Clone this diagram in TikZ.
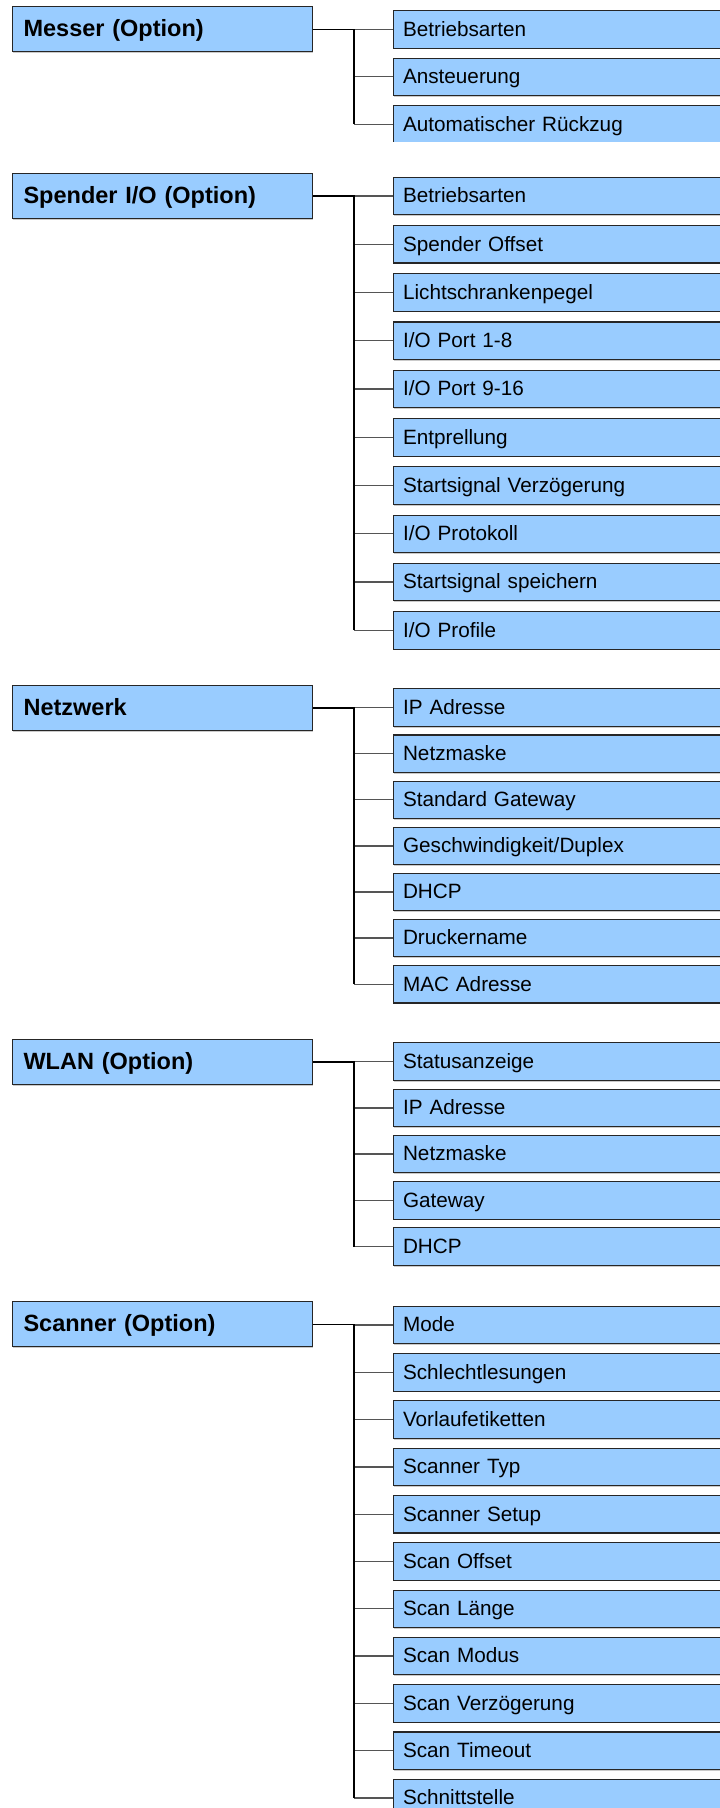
\documentclass[tikz,border=0pt]{standalone}
\usepackage{fontspec}
\setmainfont{Liberation Sans}
\usetikzlibrary{shadows}
\definecolor{boxblue}{HTML}{99CCFF}
\definecolor{boxline}{HTML}{262626}
\definecolor{branchgray}{HTML}{555555}
\begin{document}
\begin{tikzpicture}[x=1pt,y=-1pt,
  shadowed/.style={drop shadow={shadow xshift=0.8pt,shadow yshift=-1.2pt,fill=black!35,opacity=0.6}},
  pbox/.style={draw=boxline,line width=1.1pt,fill=boxblue,anchor=north west,
    minimum width=300pt,minimum height=45pt,text width=278pt,inner xsep=11pt,inner ysep=0pt,
    align=left,text height=14.6pt,text depth=0pt,
    font=\fontsize{23.5}{26}\selectfont\bfseries,shadowed},
  cbox/.style={draw=boxline,line width=1.1pt,fill=boxblue,anchor=north west,
    minimum width=340pt,minimum height=37.5pt,text width=321pt,inner xsep=9.5pt,inner ysep=0pt,
    align=left,text height=13.6pt,text depth=0pt,
    font=\fontsize{20.7}{24}\selectfont,shadowed},
  trunk/.style={black,line width=1.7pt},
  branch/.style={branchgray,line width=1.3pt}]
\useasboundingbox (0,0) rectangle (720,1808);
\clip (0,0) rectangle (720,1808);

% ---------- Group 1: Messer ----------
\node[pbox] (g1p) at (12,6.3) {Messer (Option)};
\path (g1p.east) ++(40.7,0) coordinate (g1j);
\begin{scope}
  \clip (380,0) rectangle (720,141.7);
  \foreach \t [count=\i] in {Betriebsarten,Ansteuerung,Automatischer Rückzug}
    \node[cbox] (g1c\i) at (393,{10+47.5*(\i-1)}) {\t};
\end{scope}
\foreach \i in {1,...,3} \draw[branch] (g1j |- g1c\i.west) -- (g1c\i.west);
\draw[trunk] (g1p.east) -- (g1j) -- (g1j |- g1c3.west);

% ---------- Group 2: Spender I/O ----------
\node[pbox] (g2p) at (12,173) {Spender I/O (Option)};
\path (g2p.east) ++(40.7,0) coordinate (g2j);
\foreach \t [count=\i] in {Betriebsarten,Spender Offset,Lichtschrankenpegel,I/O Port 1-8,I/O Port 9-16,Entprellung,Startsignal Verzögerung,I/O Protokoll,Startsignal speichern,I/O Profile}
  \node[cbox] (g2c\i) at (393,{176.7+48.26*(\i-1)}) {\t};
\foreach \i in {1,...,10} \draw[branch] (g2j |- g2c\i.west) -- (g2c\i.west);
\draw[trunk] (g2p.east) -- (g2j) -- (g2j |- g2c10.west);

% ---------- Group 3: Netzwerk ----------
\node[pbox] (g3p) at (12,685) {Netzwerk};
\path (g3p.east) ++(40.7,0) coordinate (g3j);
\foreach \t [count=\i] in {IP Adresse,Netzmaske,Standard Gateway,Geschwindigkeit/Duplex,DHCP,Druckername,MAC Adresse}
  \node[cbox] (g3c\i) at (393,{688.3+46.1*(\i-1)}) {\t};
\foreach \i in {1,...,7} \draw[branch] (g3j |- g3c\i.west) -- (g3c\i.west);
\draw[trunk] (g3p.east) -- (g3j) -- (g3j |- g3c7.west);

% ---------- Group 4: WLAN ----------
\node[pbox] (g4p) at (12,1039) {WLAN (Option)};
\path (g4p.east) ++(40.7,0) coordinate (g4j);
\foreach \t [count=\i] in {Statusanzeige,IP Adresse,Netzmaske,Gateway,DHCP}
  \node[cbox] (g4c\i) at (393,{1042.3+46.25*(\i-1)}) {\t};
\foreach \i in {1,...,5} \draw[branch] (g4j |- g4c\i.west) -- (g4c\i.west);
\draw[trunk] (g4p.east) -- (g4j) -- (g4j |- g4c5.west);

% ---------- Group 5: Scanner ----------
\node[pbox] (g5p) at (12,1301.3) {Scanner (Option)};
\path (g5p.east) ++(40.7,0) coordinate (g5j);
\foreach \t [count=\i] in {Mode,Schlechtlesungen,Vorlaufetiketten,Scanner Typ,Scanner Setup,Scan Offset,Scan Länge,Scan Modus,Scan Verzögerung,Scan Timeout,Schnittstelle}
  \node[cbox] (g5c\i) at (393,{1305.7+47.3*(\i-1)}) {\t};
\foreach \i in {1,...,11} \draw[branch] (g5j |- g5c\i.west) -- (g5c\i.west);
\draw[trunk] (g5p.east) -- (g5j) -- (g5j |- g5c11.west);
\end{tikzpicture}
\end{document}
